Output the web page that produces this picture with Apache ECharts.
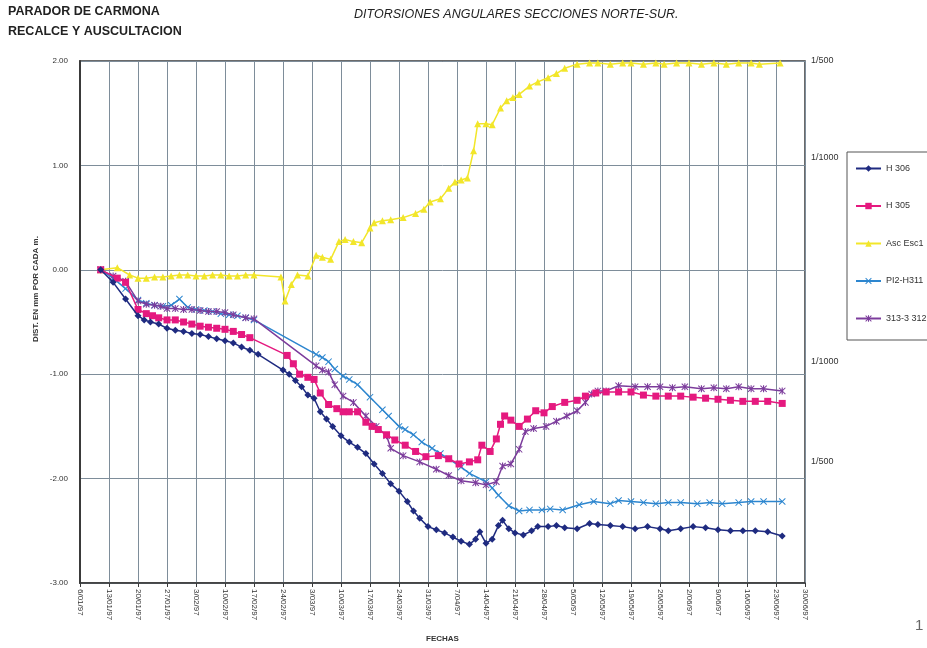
<!DOCTYPE html>
<html>
<head>
<meta charset="utf-8">
<script src="https://cdn.jsdelivr.net/npm/echarts@6/dist/echarts.min.js"></script>
<style>
html,body{margin:0;padding:0;background:#fff;}
#c{width:927px;height:648px;}
</style>
</head>
<body>
<div id="c"></div>
<script>
// ---- data (x = days after 6/01/97, y = distortion mm per m) ----
const xTickDays = [0,7,14,21,28,35,42,49,56,63,70,77,84,91,98,105,112,119,126,133,140,147,154,161,168,175];
const yTicks = [2, 1, 0, -1, -2, -3];
const rightLabels = {"2":"1/500","1":"1/1000","0":"","-1":"1/1000","-2":"1/500","-3":""};

const h306Days = [5,8,11,14,15.5,17,19,21,23,25,27,29,31,33,35,37,39,41,43,49,50.5,52,53.5,55,56.5,58,59.5,61,63,65,67,69,71,73,75,77,79,80.5,82,84,86,88,90,92,94,95.5,96.5,98,99.5,101,102,103.5,105,107,109,110.5,113,115,117,120,123,125,128,131,134,137,140,142,145,148,151,154,157,160,163,166,169.5];
const h306Vals = [0,-0.12,-0.28,-0.44,-0.48,-0.50,-0.52,-0.56,-0.58,-0.59,-0.61,-0.62,-0.64,-0.66,-0.68,-0.70,-0.74,-0.77,-0.81,-0.96,-1.00,-1.06,-1.12,-1.20,-1.23,-1.36,-1.43,-1.50,-1.59,-1.65,-1.70,-1.76,-1.86,-1.95,-2.05,-2.12,-2.22,-2.31,-2.38,-2.46,-2.49,-2.52,-2.56,-2.60,-2.63,-2.58,-2.51,-2.62,-2.58,-2.45,-2.40,-2.48,-2.52,-2.54,-2.50,-2.46,-2.46,-2.45,-2.47,-2.48,-2.43,-2.44,-2.45,-2.46,-2.48,-2.46,-2.48,-2.50,-2.48,-2.46,-2.47,-2.49,-2.50,-2.50,-2.50,-2.51,-2.55];

const h305Days = [5,9,11,14,16,17.5,19,21,23,25,27,29,31,33,35,37,39,41,50,51.5,53,55,56.5,58,60,62,63.5,65,67,69,70.5,72,74,76,78.5,81,83.5,86.5,89,91.5,94,96,97,99,100.5,101.5,102.5,104,106,108,110,112,114,117,120,122,124.5,127,130,133,136,139,142,145,148,151,154,157,160,163,166,169.5];
const h305Vals = [0,-0.08,-0.12,-0.38,-0.42,-0.44,-0.46,-0.48,-0.48,-0.50,-0.52,-0.54,-0.55,-0.56,-0.57,-0.59,-0.62,-0.65,-0.82,-0.90,-1.00,-1.03,-1.05,-1.18,-1.29,-1.33,-1.36,-1.36,-1.36,-1.46,-1.50,-1.53,-1.58,-1.63,-1.68,-1.74,-1.79,-1.78,-1.81,-1.86,-1.84,-1.82,-1.68,-1.74,-1.62,-1.48,-1.40,-1.44,-1.50,-1.43,-1.35,-1.37,-1.31,-1.27,-1.25,-1.21,-1.18,-1.17,-1.17,-1.17,-1.20,-1.21,-1.21,-1.21,-1.22,-1.23,-1.24,-1.25,-1.26,-1.26,-1.26,-1.28];

const ascDays = [5,9,12,14,16,18,20,22,24,26,28,30,32,34,36,38,40,42,48.5,49.5,51,52.5,55,57,58.5,60.5,62.5,64,66,68,70,71,73,75,78,81,83,84.5,87,89,90.5,92,93.5,95,96,98,99.5,101.5,103,104.5,106,108.5,110.5,113,115,117,120,123,125,128,131,133,136,139,141,144,147,150,153,156,159,162,164,169];
const ascVals = [0,0.02,-0.05,-0.08,-0.08,-0.07,-0.07,-0.06,-0.05,-0.05,-0.06,-0.06,-0.05,-0.05,-0.06,-0.06,-0.05,-0.05,-0.07,-0.30,-0.14,-0.05,-0.06,0.14,0.12,0.10,0.27,0.29,0.27,0.26,0.40,0.45,0.47,0.48,0.50,0.54,0.58,0.65,0.68,0.78,0.84,0.86,0.88,1.14,1.40,1.40,1.39,1.55,1.62,1.65,1.68,1.76,1.80,1.84,1.88,1.93,1.97,1.98,1.98,1.97,1.98,1.98,1.97,1.98,1.97,1.98,1.98,1.97,1.98,1.97,1.98,1.98,1.97,1.98];

const pl2Days = [5,8,11,14,16,18,20,22,24,26,28,30,32,34,36,38,40,42,57,58.5,60,61.5,63.5,65,67,70,73,74.5,77,78.5,80.5,82.5,85,87,89,92,94,98,99.5,101,103.5,106,108.5,111.5,113.5,116.5,120.5,124,128,130,133,136,139,142,145,149,152,155,159,162,165,169.5];
const pl2Vals = [0,-0.08,-0.18,-0.29,-0.32,-0.34,-0.35,-0.34,-0.28,-0.36,-0.38,-0.39,-0.40,-0.42,-0.43,-0.44,-0.46,-0.48,-0.81,-0.84,-0.88,-0.95,-1.02,-1.05,-1.10,-1.22,-1.34,-1.40,-1.50,-1.53,-1.58,-1.65,-1.71,-1.76,-1.81,-1.89,-1.95,-2.03,-2.09,-2.16,-2.26,-2.31,-2.30,-2.30,-2.29,-2.30,-2.25,-2.22,-2.24,-2.21,-2.22,-2.23,-2.24,-2.23,-2.23,-2.24,-2.23,-2.24,-2.23,-2.22,-2.22,-2.22];

const s313Days = [5,8,11,14,16,18,19.5,21,23,25,27,29,31,33,35,37,40,42,57,58.5,60,61.5,63.5,66,69,71.5,74,75,78,82,86,89,92,95.5,98,100.5,102,104,106,107.5,109.5,112.5,115,117.5,120,122,123.5,125,127,130,134,137,140,143,146,150,153,156,159,162,165,169.5];
const s313Vals = [0,-0.06,-0.11,-0.30,-0.33,-0.34,-0.35,-0.37,-0.37,-0.38,-0.38,-0.39,-0.40,-0.40,-0.41,-0.43,-0.46,-0.47,-0.92,-0.96,-0.98,-1.10,-1.21,-1.27,-1.40,-1.50,-1.59,-1.71,-1.78,-1.84,-1.91,-1.97,-2.02,-2.04,-2.06,-2.03,-1.88,-1.86,-1.72,-1.55,-1.52,-1.50,-1.45,-1.40,-1.35,-1.27,-1.19,-1.16,-1.16,-1.11,-1.12,-1.12,-1.12,-1.13,-1.12,-1.14,-1.13,-1.14,-1.12,-1.14,-1.14,-1.16];

const seriesNames = ["H 306","H 305","Asc Esc1","PI2-H311","313-3 312"];

// ---- build ----
const zip = (a, b) => a.map((d, i) => [d, b[i]]);
const base = new Date(1997, 0, 6);
function dayLabel(v) {
  const d = new Date(base.getTime() + Math.round(v) * 86400000);
  const m = d.getMonth() + 1;
  return d.getDate() + '/' + (m < 10 ? '0' + m : m) + '/97';
}
const X_SYM = 'path://M0,1L1,0L5,4L9,0L10,1L6,5L10,9L9,10L5,6L1,10L0,9L4,5Z';
const STAR_SYM = 'path://M0,1L1,0L5,4L9,0L10,1L6,5L10,9L9,10L5,6L1,10L0,9L4,5Z M4.2,0L5.8,0L5.8,10L4.2,10Z';

function mk(name, days, vals, color, symbol, size, z) {
  return {
    name: name, type: 'line', data: zip(days, vals),
    symbol: symbol, symbolSize: size, showSymbol: true,
    lineStyle: { color: color, width: 1.5 },
    itemStyle: { color: color },
    z: z, animation: false
  };
}

const chart = echarts.init(document.getElementById('c'), null, { renderer: 'canvas' });
const FF = '"Liberation Sans Narrow", "Liberation Sans", Arial, sans-serif';
chart.setOption({
  backgroundColor: '#ffffff',
  animation: false,
  textStyle: { fontFamily: FF },
  grid: { left: 80, right: 122, top: 61, bottom: 63, show: true, borderColor: '#3a3a3a', borderWidth: 1.5, backgroundColor: 'transparent' },
  legend: {
    orient: 'vertical', left: 847, top: 152,
    data: seriesNames,
    itemWidth: 25, itemHeight: 8, itemGap: 28.5,
    padding: [12, 60, 17, 8],
    borderColor: '#555', borderWidth: 1, backgroundColor: '#fff',
    textStyle: { fontSize: 9, color: '#333', fontFamily: FF }
  },
  xAxis: {
    type: 'value', min: 0, max: 175, interval: 7,
    axisLine: { show: true, onZero: false, lineStyle: { color: '#3a3a3a', width: 1.5 } },
    axisTick: { show: true, length: 4, lineStyle: { color: '#3a3a3a' } },
    splitLine: { show: true, lineStyle: { color: '#7e8d9a', width: 1 } },
    axisLabel: { rotate: -90, fontSize: 8, color: '#333', margin: 6, formatter: v => dayLabel(v), showMinLabel: true, showMaxLabel: true },
    name: 'FECHAS', nameLocation: 'middle', nameGap: 52,
    nameTextStyle: { fontSize: 8, fontWeight: 'bold', color: '#333' }
  },
  yAxis: [{
    type: 'value', min: -3, max: 2, interval: 1,
    axisLine: { show: true, lineStyle: { color: '#3a3a3a', width: 2 } },
    axisTick: { show: false },
    splitLine: { show: true, lineStyle: { color: '#7e8d9a', width: 1 } },
    axisLabel: { fontSize: 8, color: '#333', margin: 12, formatter: v => v.toFixed(2) }
  }, {
    type: 'value', min: -3, max: 2, interval: 1, position: 'right',
    axisLine: { show: false }, axisTick: { show: false }, splitLine: { show: false },
    axisLabel: {
      fontSize: 9, color: '#333', margin: 6,
      formatter: v => {
        const t = rightLabels[String(v)];
        if (!t) return '';
        if (v === 2) return '{a|' + t + '}';
        if (v === 1) return '{b|' + t + '}';
        if (v === -1) return '{c|' + t + '}';
        return '{d|' + t + '}';
      },
      rich: {
        a: { fontSize: 9, color: '#333', padding: [0, 0, 0, 0] },
        b: { fontSize: 9, color: '#333', padding: [0, 0, 16, 0] },
        c: { fontSize: 9, color: '#333', padding: [0, 0, 26, 0] },
        d: { fontSize: 9, color: '#333', padding: [0, 0, 34, 0] }
      }
    }
  }],
  series: [
    mk(seriesNames[2], ascDays, ascVals, '#f2e62a', 'triangle', 7, 2),
    mk(seriesNames[3], pl2Days, pl2Vals, '#2d86cf', X_SYM, 7, 3),
    mk(seriesNames[4], s313Days, s313Vals, '#7c3c9c', STAR_SYM, 7, 4),
    mk(seriesNames[1], h305Days, h305Vals, '#e5197f', 'rect', 7, 5),
    mk(seriesNames[0], h306Days, h306Vals, '#1f2b80', 'diamond', 7, 6)
  ],
  graphic: [
    { type: 'text', left: 8, top: 5, style: { text: 'PARADOR DE CARMONA', fontSize: 12.5, fontFamily: FF, fill: '#222', fontWeight: 'bold' } },
    { type: 'text', left: 8, top: 25, style: { text: 'RECALCE Y AUSCULTACION', fontSize: 12.5, fontFamily: FF, fill: '#222', fontWeight: 'bold' } },
    { type: 'text', left: 354, top: 8, style: { text: 'DITORSIONES ANGULARES SECCIONES NORTE-SUR.', fontSize: 12.5, fontFamily: FF, fill: '#222', fontStyle: 'italic' } },
    { type: 'text', x: 36, y: 289, rotation: Math.PI / 2, style: { text: 'DIST. EN mm POR CADA m.', fontSize: 8, fontWeight: 'bold', fontFamily: FF, fill: '#333', align: 'center', verticalAlign: 'middle' } },
    { type: 'text', left: 915, top: 618, style: { text: '1', fontSize: 15, fontFamily: FF, fill: '#666' } }
  ]
});
</script>
</body>
</html>
